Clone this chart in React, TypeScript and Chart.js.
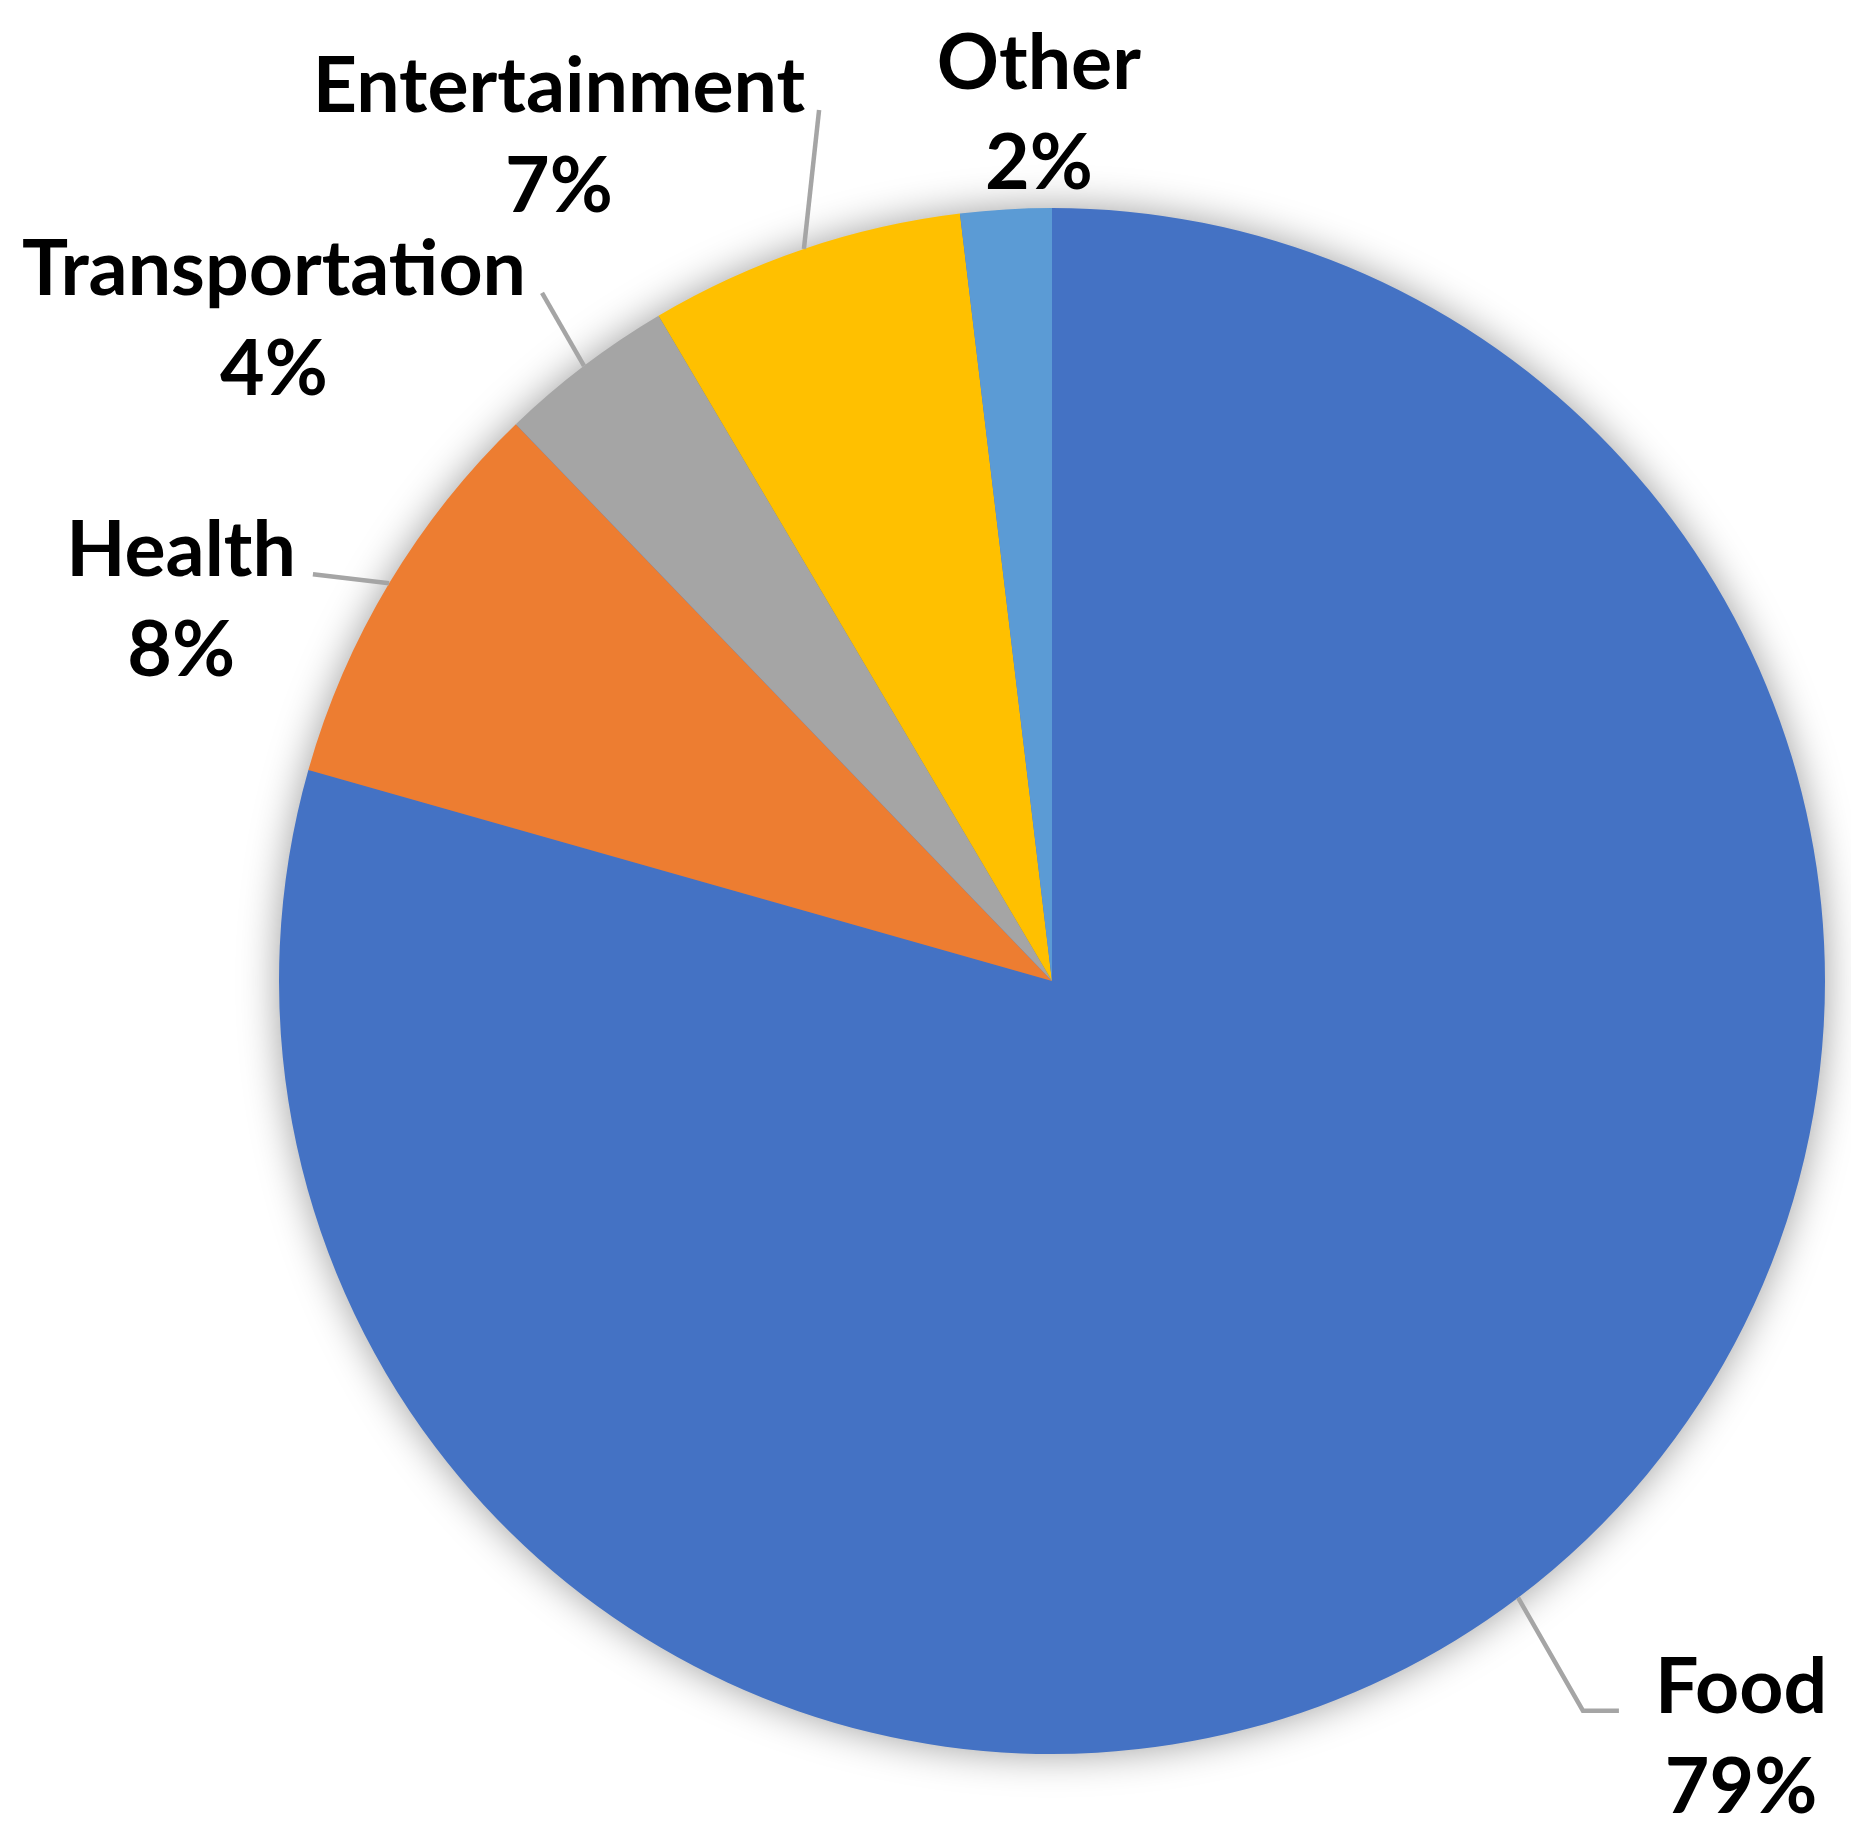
import React, { useEffect, useRef } from "react";
import { Chart, registerables } from "chart.js";

Chart.register(...registerables);

// ---- data ----
const categories: string[] = ["Food", "Health", "Transportation", "Entertainment", "Other"];
const shares: number[] = [79.4, 8.4, 3.7, 6.6, 1.9];
const sliceColors: string[] = ["#4472C4", "#ED7D31", "#A5A5A5", "#FFC000", "#5B9BD5"];

// ---- label layout (offset of label from the slice's outer mid-point) ----
const labelOffsets: [number, number][] = [
  [223, 115],
  [-208, -7],
  [-310, -71],
  [-245, -137],
  [33, -120],
];
const leaderGap: number[] = [36, 17, 16, 14, 0];
const leaderElbow: number[] = [36, 0, 0, 0, 0];
const showLeader: boolean[] = [true, true, true, true, false];

const FONT = "bold 77px Lato, 'Open Sans', sans-serif";
const LINE_GAP = 100;

const W = 1851;
const H = 1841;

const shadowPlugin = {
  id: "pieShadow",
  beforeDatasetsDraw(chart: any) {
    const meta = chart.getDatasetMeta(0);
    const arc = meta.data[0];
    if (!arc) return;
    const { x, y, outerRadius } = arc.getProps(["x", "y", "outerRadius"], true);
    const ctx = chart.ctx;
    ctx.save();
    ctx.shadowColor = "rgba(0,0,0,0.40)";
    ctx.shadowBlur = 40;
    ctx.shadowOffsetX = 0;
    ctx.shadowOffsetY = 0;
    ctx.fillStyle = "#4472C4";
    ctx.beginPath();
    ctx.arc(x, y, outerRadius - 1, 0, Math.PI * 2);
    ctx.fill();
    ctx.restore();
  },
};

const labelPlugin = {
  id: "outsideLabels",
  afterDatasetsDraw(chart: any) {
    const ctx = chart.ctx;
    const meta = chart.getDatasetMeta(0);
    const values: number[] = chart.data.datasets[0].data;
    const total = values.reduce((a, b) => a + b, 0);
    ctx.save();
    ctx.font = FONT;
    ctx.textBaseline = "alphabetic";
    meta.data.forEach((el: any, i: number) => {
      const { x, y, startAngle, endAngle, outerRadius } = el.getProps(
        ["x", "y", "startAngle", "endAngle", "outerRadius"],
        true
      );
      const mid = (startAngle + endAngle) / 2;
      const ex = x + Math.cos(mid) * outerRadius;
      const ey = y + Math.sin(mid) * outerRadius;
      const cx = ex + labelOffsets[i][0];
      const base1 = ey + labelOffsets[i][1];
      const base2 = base1 + LINE_GAP;
      const line1 = chart.data.labels[i];
      const line2 = Math.round((values[i] / total) * 100) + "%";
      const w = Math.max(ctx.measureText(line1).width, ctx.measureText(line2).width);

      if (showLeader[i]) {
        const rightSide = cx < ex;
        const endX = rightSide ? cx + w / 2 + leaderGap[i] : cx - w / 2 - leaderGap[i];
        const endY = base1 - 2;
        ctx.strokeStyle = "#A5A5A5";
        ctx.lineWidth = 4.5;
        ctx.lineJoin = "miter";
        ctx.beginPath();
        ctx.moveTo(ex, ey);
        if (leaderElbow[i] > 0) {
          const elbowX = rightSide ? endX + leaderElbow[i] : endX - leaderElbow[i];
          ctx.lineTo(elbowX, endY);
        }
        ctx.lineTo(endX, endY);
        ctx.stroke();
      }

      ctx.fillStyle = "#000000";
      ctx.textAlign = "center";
      ctx.fillText(line1, cx, base1);
      ctx.fillText(line2, cx, base2);
    });
    ctx.restore();
  },
};

export default function App() {
  const ref = useRef<HTMLCanvasElement | null>(null);

  useEffect(() => {
    document.body.style.margin = "0";
    document.body.style.overflow = "hidden";
    document.documentElement.style.overflow = "hidden";
    const canvas = ref.current;
    if (!canvas) return;
    const chart = new Chart(canvas, {
      type: "pie",
      data: {
        labels: categories,
        datasets: [
          {
            data: shares,
            backgroundColor: sliceColors,
            borderWidth: 0,
          },
        ],
      },
      options: {
        responsive: false,
        animation: false,
        rotation: 0,
        layout: {
          padding: { left: 279, right: 26, top: 208, bottom: 87 },
        },
        plugins: {
          legend: { display: false },
          tooltip: { enabled: false },
        },
      },
      plugins: [shadowPlugin, labelPlugin],
    });
    return () => chart.destroy();
  }, []);

  return (
    <div style={{ width: W, height: H, background: "#ffffff" }}>
      <canvas ref={ref} width={W} height={H} style={{ display: "block", width: W, height: H }} />
    </div>
  );
}
